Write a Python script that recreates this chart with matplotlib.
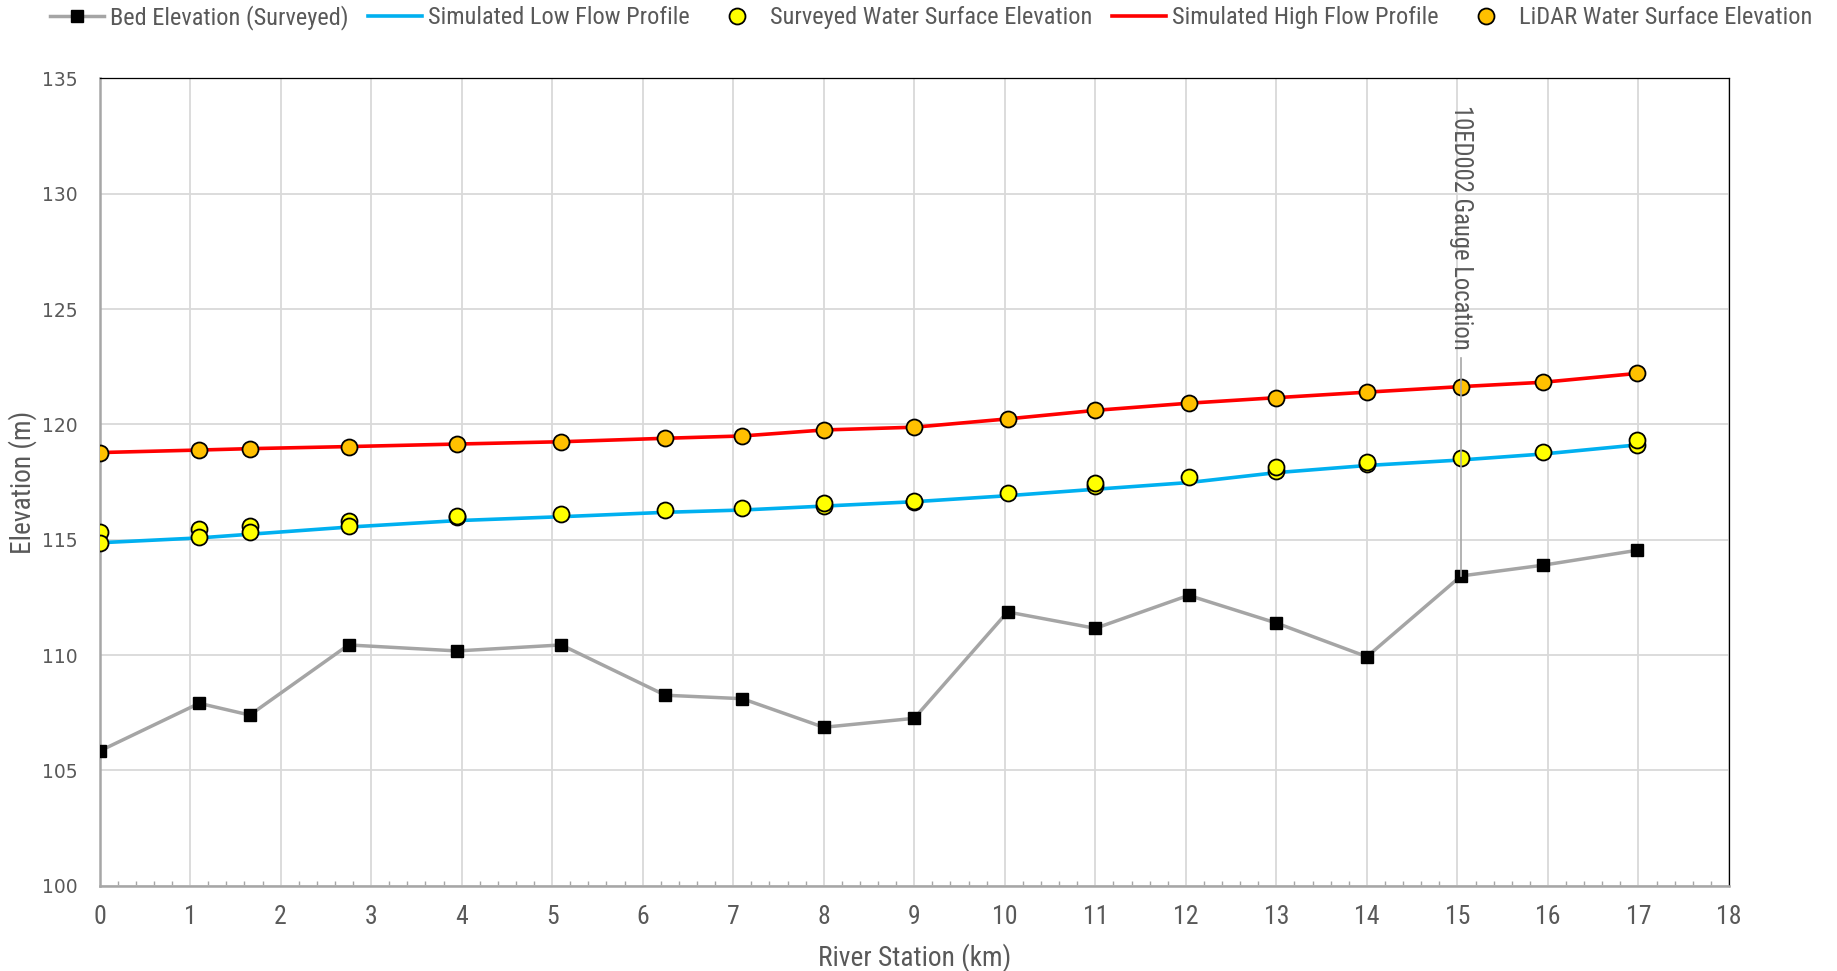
import matplotlib
matplotlib.use("Agg")
import matplotlib.pyplot as plt
from matplotlib import font_manager
from matplotlib.lines import Line2D
from matplotlib.ticker import MultipleLocator

# ---------------- data ----------------
stations = [0.0, 1.1, 1.66, 2.75, 3.95, 5.1, 6.25, 7.1, 8.0, 9.0, 10.03, 11.0,
            12.03, 13.0, 14.0, 15.04, 15.95, 16.98]
bed_elev = [105.84, 107.91, 107.40, 110.44, 110.18, 110.44, 108.26, 108.11, 106.87,
            107.26, 111.87, 111.16, 112.59, 111.39, 109.93, 113.43, 113.90, 114.54]
low_flow = [114.87, 115.08, 115.24, 115.55, 115.83, 116.00, 116.19, 116.29, 116.46,
            116.65, 116.91, 117.19, 117.48, 117.91, 118.22, 118.46, 118.72, 119.11]
high_flow = [118.78, 118.89, 118.95, 119.04, 119.15, 119.25, 119.40, 119.50, 119.76,
             119.88, 120.24, 120.61, 120.92, 121.16, 121.40, 121.64, 121.83, 122.21]
lidar_x = stations
lidar_y = [118.78, 118.89, 118.95, 119.04, 119.15, 119.25, 119.40, 119.50, 119.76,
           119.88, 120.24, 120.61, 120.92, 121.16, 121.40, 121.64, 121.83, 122.21]
surv_x = [0.0, 0.0, 1.1, 1.1, 1.66, 1.66, 2.75, 2.75, 3.95, 3.95, 5.1, 6.25, 7.1,
          8.0, 8.0, 9.0, 9.0, 10.03, 11.0, 11.0, 12.03, 13.0, 13.0, 14.0, 14.0,
          15.04, 15.95, 16.98, 16.98]
surv_y = [115.35, 114.87, 115.47, 115.10, 115.60, 115.32, 115.81, 115.60, 116.00,
          116.04, 116.12, 116.29, 116.36, 116.46, 116.58, 116.62, 116.68, 117.01,
          117.33, 117.45, 117.73, 118.00, 118.17, 118.30, 118.36, 118.55, 118.82,
          119.11, 119.33]
gauge_x = 15.04
gauge_label = "10ED002 Gauge Location"
legend_labels = ["Bed Elevation (Surveyed)", "Simulated Low Flow Profile",
                 "Surveyed Water Surface Elevation", "Simulated High Flow Profile",
                 "LiDAR Water Surface Elevation"]

# ---------------- fonts ----------------
avail = {f.name for f in font_manager.fontManager.ttflist}
narrow = "Roboto"
for cand in ["Liberation Sans Narrow", "Roboto Condensed", "Open Sans Condensed",
             "Arial Narrow", "Roboto"]:
    if cand in avail:
        narrow = cand
        break
plt.rcParams['font.family'] = [narrow, 'DejaVu Sans']
TXT = "#595959"

fig = plt.figure(figsize=(18.37, 9.71), dpi=100)
renderer = fig.canvas.get_renderer()


def size_for_width(text, target_px, family=None):
    """Font size (pt) whose rendered width matches target_px."""
    kw = {} if family is None else {'family': family}
    t = fig.text(0, 0, text, fontsize=10, **kw)
    w = t.get_window_extent(renderer=renderer).width
    t.remove()
    return 10.0 * target_px / w


fs_leg = size_for_width(legend_labels[0], 238)
fs_xlab = size_for_width("River Station (km)", 192)
fs_gauge = size_for_width(gauge_label, 244)
fs_xt = size_for_width("18", 25)

ax = fig.add_axes([0.0542, 0.0878, 0.9412 - 0.0542, 0.9192 - 0.0878])

C_BED = "#A5A5A5"
C_LOW = "#00B0F0"
C_HIGH = "#FF0000"
C_YEL = "#FFFF00"
C_ORA = "#FFC000"

ax.plot(stations, bed_elev, color=C_BED, lw=2.5, marker='s', ms=8,
        mfc='black', mec='black', zorder=3)
ax.plot(stations, low_flow, color=C_LOW, lw=2.6, zorder=4)
ax.plot(surv_x, surv_y, ls='none', marker='o', ms=11.5, mfc=C_YEL, mec='black',
        mew=1.3, zorder=5)
ax.plot(stations, high_flow, color=C_HIGH, lw=2.6, zorder=6)
ax.plot(lidar_x, lidar_y, ls='none', marker='o', ms=11.5, mfc=C_ORA, mec='black',
        mew=1.3, zorder=7)

# gauge marker
ax.plot([gauge_x, gauge_x], [bed_elev[15], 122.88], color="#A6A6A6", lw=1.2, zorder=8)
ax.text(gauge_x, 133.85, gauge_label, rotation=270, ha='center', va='top',
        fontsize=fs_gauge, color=TXT, zorder=9)

ax.set_xlim(0, 18)
ax.set_ylim(100, 135)
ax.xaxis.set_major_locator(MultipleLocator(1))
ax.xaxis.set_minor_locator(MultipleLocator(0.2))
ax.yaxis.set_major_locator(MultipleLocator(5))
ax.grid(True, which='major', color="#D9D9D9", lw=1.3, zorder=0)
ax.set_axisbelow(True)

for s in ['left', 'bottom']:
    ax.spines[s].set_color("#A6A6A6")
    ax.spines[s].set_linewidth(1.8)
for s in ['top', 'right']:
    ax.spines[s].set_color("black")
    ax.spines[s].set_linewidth(0.9)

ax.tick_params(axis='x', which='major', length=0, pad=14, labelsize=fs_xt,
               labelcolor=TXT)
ax.tick_params(axis='x', which='minor', direction='in', length=3.5, width=1,
               color="#A6A6A6")
ax.tick_params(axis='y', which='major', length=0, pad=16, labelcolor=TXT)
for lab in ax.get_yticklabels():
    lab.set_fontfamily('DejaVu Sans')
    lab.set_fontsize(13.5)

ax.set_xlabel("River Station (km)", fontsize=fs_xlab, color=TXT, labelpad=10)
ax.set_ylabel("Elevation (m)", fontsize=fs_xlab, color=TXT)
ax.yaxis.label.set_va('center')
ax.yaxis.set_label_coords(-0.047, 0.5)

handles = [
    Line2D([], [], color=C_BED, lw=2.5, marker='s', ms=8, mfc='black', mec='black'),
    Line2D([], [], color=C_LOW, lw=2.6),
    Line2D([], [], ls='none', marker='o', ms=11.5, mfc=C_YEL, mec='black', mew=1.3),
    Line2D([], [], color=C_HIGH, lw=2.6),
    Line2D([], [], ls='none', marker='o', ms=11.5, mfc=C_ORA, mec='black', mew=1.3),
]
em = fs_leg * 100 / 72.0
leg = fig.legend(handles, legend_labels, loc='center', bbox_to_anchor=(0.5068, 0.982),
                 ncol=5, frameon=False, fontsize=fs_leg, handlelength=54 / em,
                 handletextpad=6 / em, columnspacing=20 / em, borderaxespad=0,
                 borderpad=0)
for t in leg.get_texts():
    t.set_color(TXT)

fig.savefig("out.png", dpi=100)
